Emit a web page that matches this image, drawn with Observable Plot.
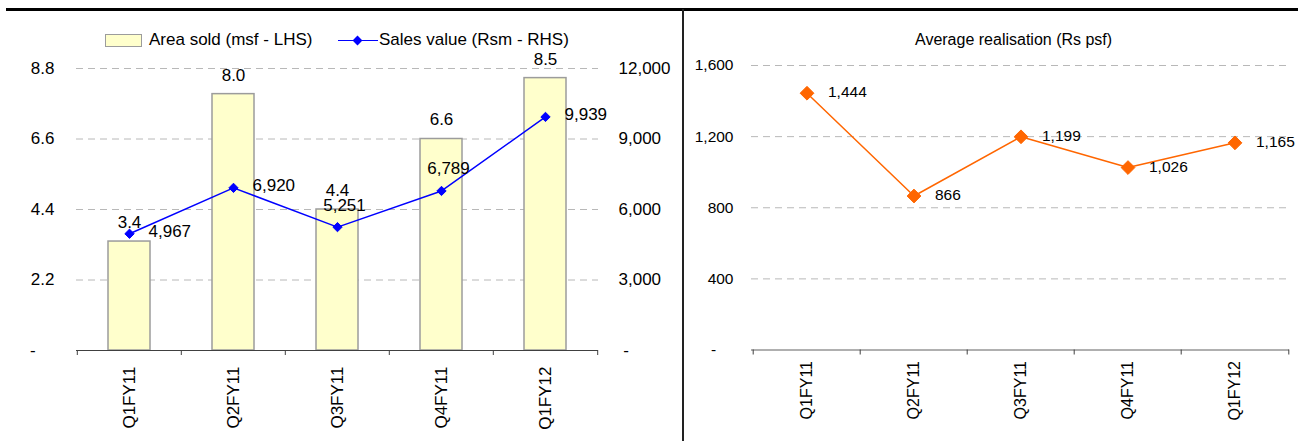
<!DOCTYPE html>
<html><head><meta charset="utf-8">
<script src="https://cdn.jsdelivr.net/npm/d3@7"></script>
<script src="https://cdn.jsdelivr.net/npm/@observablehq/plot@0.6"></script>
<style>
body{margin:0;background:#fff;}
#wrap{position:relative;width:1298px;height:441px;overflow:hidden;font-family:"Liberation Sans",Arial,sans-serif;color:#000;background:#fff;}
.abs{position:absolute;}
.lg{position:absolute;font-size:17px;line-height:20px;white-space:nowrap;}
</style></head><body><div id="wrap"></div>
<script>
// ---- data ----
const quarters = ["Q1FY11", "Q2FY11", "Q3FY11", "Q4FY11", "Q1FY12"];
const areaSold = [3.4, 8.0, 4.4, 6.6, 8.5];
const salesValue = [4967, 6920, 5251, 6789, 9939];
const salesLabelSide = ["right", "right", "above", "above", "right"];
const avgRealisation = [1444, 866, 1199, 1026, 1165];
const areaTicks = [0, 2.2, 4.4, 6.6, 8.8];
const salesTicks = [0, 3000, 6000, 9000, 12000];
const realTicks = [0, 400, 800, 1200, 1600];
const legendLabels = ["Area sold (msf - LHS)", "Sales value (Rsm - RHS)"];
const rightTitle = "Average realisation (Rs psf)";

const FONT = '"Liberation Sans", Arial, sans-serif';
const fmt = d3.format(",");
const k = areaTicks[areaTicks.length - 1] / salesTicks[salesTicks.length - 1];

const left = quarters.map((q, i) => ({q, area: areaSold[i], sales: salesValue[i], side: salesLabelSide[i]}));
const right = quarters.map((q, i) => ({q, v: avgRealisation[i]}));

const wrap = document.getElementById("wrap");

function boundaryTicks(step) {
  return [
    Plot.ruleX(quarters, {x: d => d, y1: 0, y2: 0, insetBottom: -5, dx: -step / 2, stroke: "#404040"}),
    Plot.ruleX(quarters.slice(-1), {x: d => d, y1: 0, y2: 0, insetBottom: -5, dx: step / 2, stroke: "#404040"})
  ];
}

// ---- left chart ----
const LW = 682, LML = 76, LMR = 84;
const stepL = (LW - LML - LMR) / quarters.length;
const leftPlot = Plot.plot({
  width: LW, height: 441,
  marginLeft: LML, marginRight: LMR, marginTop: 68, marginBottom: 91,
  style: {fontFamily: FONT, fontSize: "17px", color: "#000", background: "transparent", overflow: "visible"},
  x: {type: "band", domain: quarters, paddingInner: 0.6, paddingOuter: 0.3},
  y: {domain: [0, areaTicks[areaTicks.length - 1]]},
  marks: [
    Plot.ruleY(areaTicks.slice(1), {stroke: "#b8b8b8", strokeDasharray: "7,5"}),
    Plot.barY(left, {x: "q", y: "area", fill: "#FFFFCC", stroke: "#9c9c9c", strokeWidth: 1.5}),
    Plot.ruleY([0], {stroke: "#404040"}),
    ...boundaryTicks(stepL),
    Plot.line(left, {x: "q", y: d => d.sales * k, stroke: "#0000FF", strokeWidth: 1.5}),
    Plot.dot(left, {x: "q", y: d => d.sales * k, symbol: "diamond2", r: 4.2, fill: "#0000FF", stroke: "#0000FF", strokeWidth: 1}),
    Plot.text(left, {x: "q", y: "area", text: d => d.area.toFixed(1), dy: -19, fontSize: 17}),
    Plot.text(left.filter(d => d.side === "right"), {x: "q", y: d => d.sales * k, text: d => fmt(d.sales), textAnchor: "start", dx: 19, dy: -2, fontSize: 17}),
    Plot.text(left.filter(d => d.side === "above"), {x: "q", y: d => d.sales * k, text: d => fmt(d.sales), dx: 7, dy: -22, fontSize: 17}),
    Plot.axisY({anchor: "left", ticks: areaTicks, tickFormat: d => d === 0 ? "-\u2007\u2007" : d.toFixed(1), tickSize: 0, tickPadding: 22, label: null, fontSize: 17}),
    Plot.axisY({anchor: "right", ticks: salesTicks.map(v => v * k), tickFormat: d => { const v = Math.round(d / k); return v === 0 ? "\u00a0-" : fmt(v); }, tickSize: 0, tickPadding: 20, label: null, fontSize: 17}),
    Plot.axisX({tickRotate: -90, tickSize: 0, tickPadding: 16, label: null, fontSize: 17})
  ]
});
leftPlot.style.position = "absolute";
leftPlot.style.left = "0px";
leftPlot.style.top = "0px";
wrap.appendChild(leftPlot);

// ---- right chart ----
const RW = 616, RML = 69, RMR = 9;
const stepR = (RW - RML - RMR) / quarters.length;
const rightPlot = Plot.plot({
  width: RW, height: 441,
  marginLeft: RML, marginRight: RMR, marginTop: 65, marginBottom: 91.5,
  style: {fontFamily: FONT, fontSize: "15px", color: "#000", background: "transparent", overflow: "visible"},
  x: {type: "band", domain: quarters, paddingInner: 0.6, paddingOuter: 0.3},
  y: {domain: [0, realTicks[realTicks.length - 1]]},
  marks: [
    Plot.ruleY(realTicks.slice(1), {stroke: "#b8b8b8", strokeDasharray: "7,5"}),
    Plot.ruleY([0], {stroke: "#606060"}),
    ...boundaryTicks(stepR),
    Plot.line(right, {x: "q", y: "v", stroke: "#FF6600", strokeWidth: 1.5}),
    Plot.dot(right, {x: "q", y: "v", symbol: "diamond2", r: 6.2, fill: "#FF6600", stroke: "#FF6600", strokeWidth: 1}),
    Plot.text(right, {x: "q", y: "v", text: d => fmt(d.v), textAnchor: "start", dx: 21, dy: -1, fontSize: 15.5}),
    Plot.axisY({anchor: "left", ticks: realTicks, tickFormat: d => d === 0 ? "-\u2007\u2007" : fmt(d), tickSize: 0, tickPadding: 18, label: null, fontSize: 15.5}),
    Plot.axisX({tickRotate: -90, tickSize: 0, tickPadding: 11, label: null, fontSize: 16})
  ]
});
rightPlot.style.position = "absolute";
rightPlot.style.left = "682px";
rightPlot.style.top = "0px";
wrap.appendChild(rightPlot);

// ---- frame lines ----
function box(l, t, w, h, bg, extra) {
  const d = document.createElement("div");
  d.className = "abs";
  Object.assign(d.style, {left: l + "px", top: t + "px", width: w + "px", height: h + "px", background: bg}, extra || {});
  wrap.appendChild(d);
  return d;
}
box(6, 8, 1292, 2.5, "#000");
box(681.5, 9, 2, 432, "#222");

// ---- legend (left) ----
box(105, 33.5, 37, 13, "#FFFFCC", {border: "1px solid #9c9c9c", boxSizing: "border-box"});
const t1 = document.createElement("div"); t1.className = "lg"; t1.textContent = legendLabels[0];
Object.assign(t1.style, {left: "149px", top: "30px"}); wrap.appendChild(t1);
box(338, 39.5, 40, 1.5, "#0000FF");
box(353.5, 36.5, 7, 7, "#0000FF", {transform: "rotate(45deg)"});
const t2 = document.createElement("div"); t2.className = "lg"; t2.textContent = legendLabels[1];
Object.assign(t2.style, {left: "379px", top: "30px"}); wrap.appendChild(t2);

// ---- right title ----
const tt = document.createElement("div"); tt.className = "abs"; tt.textContent = rightTitle;
Object.assign(tt.style, {left: "915px", top: "31px", fontSize: "16px", whiteSpace: "nowrap"});
wrap.appendChild(tt);
</script></body></html>
